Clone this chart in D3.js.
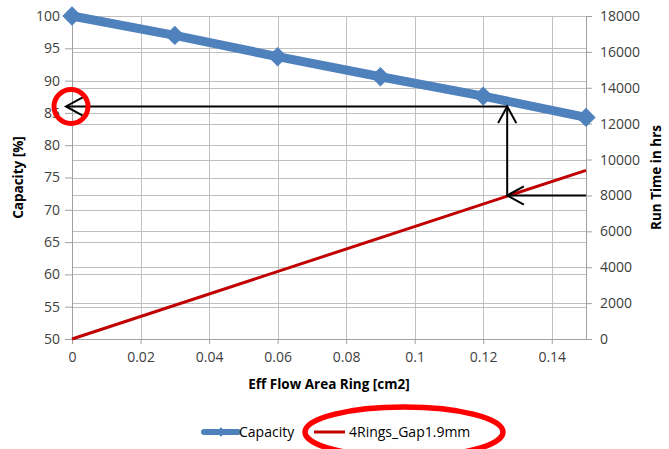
<!DOCTYPE html>
<html>
<head>
<meta charset="utf-8">
<script src="https://cdn.jsdelivr.net/npm/d3@7"></script>
<style>
  html, body { margin: 0; padding: 0; background: #fff; }
  svg { display: block; font-family: "Open Sans", "Liberation Sans", sans-serif; }
</style>
</head>
<body>
<svg id="chart" width="669" height="449"></svg>
<script>
// Effective flow area of the ring [cm2]
const flowArea = [0, 0.03, 0.06, 0.09, 0.12, 0.15];
// Capacity [%] (left axis)
const capacity = [100, 97, 93.7, 90.6, 87.6, 84.3];
// Run time in hours for 4 rings, gap 1.9 mm (right axis)
const runTimeArea = [0, 0.15];
const runTime = [0, 9400];

// Axis ticks
const xTicks = [0, 0.02, 0.04, 0.06, 0.08, 0.1, 0.12, 0.14];
const xTickLabels = ["0", "0.02", "0.04", "0.06", "0.08", "0.1", "0.12", "0.14"];
const yLeftTicks = [50, 55, 60, 65, 70, 75, 80, 85, 90, 95, 100];
const yRightTicks = [0, 2000, 4000, 6000, 8000, 10000, 12000, 14000, 16000, 18000];

// Read-off example: required run time -> flow area -> capacity
const targetRunTime = 8000;
const readArea = 0.127;
const readCapacity = 86;

const svg = d3.select("#chart");
const plot = { left: 72, right: 586, top: 16, bottom: 339 };

const x = d3.scaleLinear().domain([0, 0.15]).range([plot.left, plot.right]);
const yL = d3.scaleLinear().domain([50, 100]).range([plot.bottom, plot.top]);
const yR = d3.scaleLinear().domain([0, 18000]).range([plot.bottom, plot.top]);

const gridColor = "#c0c0c0";
const axisColor = "#a0a0a0";
const textColor = "#404040";

// Gridlines
const grid = svg.append("g").attr("shape-rendering", "crispEdges");
grid.selectAll(".gl").data(yLeftTicks).join("line")
  .attr("x1", plot.left).attr("x2", plot.right)
  .attr("y1", d => Math.round(yL(d)) + 0.5).attr("y2", d => Math.round(yL(d)) + 0.5)
  .attr("stroke", gridColor);
grid.selectAll(".gr").data(yRightTicks).join("line")
  .attr("x1", plot.left).attr("x2", plot.right)
  .attr("y1", d => Math.round(yR(d)) + 0.5).attr("y2", d => Math.round(yR(d)) + 0.5)
  .attr("stroke", gridColor);
grid.selectAll(".gx").data(xTicks).join("line")
  .attr("x1", d => Math.round(x(d)) + 0.5).attr("x2", d => Math.round(x(d)) + 0.5)
  .attr("y1", plot.top).attr("y2", plot.bottom)
  .attr("stroke", gridColor);

// Axes
const xAxis = d3.axisBottom(x).tickValues(xTicks)
  .tickFormat((d, i) => xTickLabels[i]).tickSize(5).tickPadding(8);
const gx = svg.append("g").attr("transform", `translate(0,${plot.bottom})`).call(xAxis);

const leftAxis = d3.axisLeft(yL).tickValues(yLeftTicks).tickSize(7).tickPadding(5);
const gl = svg.append("g").attr("transform", `translate(${plot.left},0)`).call(leftAxis);

const rightAxis = d3.axisRight(yR).tickValues(yRightTicks)
  .tickFormat(d3.format("d")).tickSize(6).tickPadding(8);
const gr = svg.append("g").attr("transform", `translate(${plot.right},0)`).call(rightAxis);

[gx, gl, gr].forEach(g => {
  g.select(".domain").attr("stroke", axisColor);
  g.selectAll(".tick line").attr("stroke", axisColor);
  g.selectAll("text").attr("fill", textColor)
    .style("font-size", "14px")
    .style("font-family", "'Open Sans', 'Liberation Sans', sans-serif");
});
gx.select(".domain").attr("d", `M${plot.left},0.5H${plot.right}`);

// Axis titles
svg.append("text")
  .attr("x", (plot.left + plot.right) / 2).attr("y", 389)
  .attr("text-anchor", "middle").attr("font-weight", "bold")
  .attr("font-size", 13.5).attr("fill", "#000")
  .text("Eff Flow Area Ring [cm2]");
svg.append("text")
  .attr("transform", `translate(23,${(plot.top + plot.bottom) / 2}) rotate(-90)`)
  .attr("text-anchor", "middle").attr("font-weight", "bold")
  .attr("font-size", 13.5).attr("fill", "#000")
  .text("Capacity [%]");
svg.append("text")
  .attr("transform", `translate(661,${(plot.top + plot.bottom) / 2}) rotate(-90)`)
  .attr("text-anchor", "middle").attr("font-weight", "bold")
  .attr("font-size", 13.5).attr("fill", "#000")
  .text("Run Time in hrs");

// Series
const blue = "#4f81bd";
const red = "#c00000";

const capLine = d3.line().x((d, i) => x(flowArea[i])).y(d => yL(d));
svg.append("path").datum(capacity)
  .attr("d", capLine).attr("fill", "none")
  .attr("stroke", blue).attr("stroke-width", 9).attr("stroke-linejoin", "round");

const diamond = d3.symbol().type(d3.symbolDiamond2).size(240);
svg.selectAll(".cap-pt").data(capacity).join("path")
  .attr("transform", (d, i) => `translate(${x(flowArea[i])},${yL(d)})`)
  .attr("d", diamond).attr("fill", blue);

const rtLine = d3.line().x((d, i) => x(runTimeArea[i])).y(d => yR(d));
svg.append("path").datum(runTime)
  .attr("d", rtLine).attr("fill", "none")
  .attr("stroke", red).attr("stroke-width", 3);

// Read-off arrows
const arrows = svg.append("g").attr("stroke", "#000").attr("stroke-width", 2).attr("fill", "none");
function arrow(x1, y1, x2, y2) {
  arrows.append("line").attr("x1", x1).attr("y1", y1).attr("x2", x2).attr("y2", y2);
  const ang = Math.atan2(y2 - y1, x2 - x1);
  const len = 19, spread = 0.5;
  const pts = [ang + Math.PI - spread, ang + Math.PI + spread].map(a =>
    [x2 + len * Math.cos(a), y2 + len * Math.sin(a)]);
  arrows.append("path")
    .attr("d", `M${pts[0][0]},${pts[0][1]}L${x2},${y2}L${pts[1][0]},${pts[1][1]}`);
}
const ax = x(readArea);
arrow(plot.right, yR(targetRunTime), ax, yR(targetRunTime));
arrow(ax, yR(targetRunTime), ax, yL(readCapacity));
arrow(ax, yL(readCapacity), plot.left - 6, yL(readCapacity));

// Highlight of the capacity read-off
svg.append("circle")
  .attr("cx", plot.left - 1).attr("cy", yL(readCapacity)).attr("r", 17)
  .attr("fill", "none").attr("stroke", "#ff0000").attr("stroke-width", 5);

// Legend
const leg = svg.append("g");
leg.append("line").attr("x1", 204).attr("x2", 238).attr("y1", 432).attr("y2", 432)
  .attr("stroke", blue).attr("stroke-width", 6).attr("stroke-linecap", "round");
leg.append("path").attr("transform", "translate(221,432)")
  .attr("d", d3.symbol().type(d3.symbolDiamond2).size(60)).attr("fill", blue);
leg.append("text").attr("x", 239).attr("y", 437).attr("font-size", 14).attr("fill", "#000")
  .text("Capacity");
leg.append("line").attr("x1", 314).attr("x2", 345).attr("y1", 432).attr("y2", 432)
  .attr("stroke", red).attr("stroke-width", 3);
leg.append("text").attr("x", 349).attr("y", 437).attr("font-size", 14).attr("fill", "#000")
  .text("4Rings_Gap1.9mm");

// Highlight of the legend entry
svg.append("ellipse")
  .attr("cx", 404).attr("cy", 432).attr("rx", 99).attr("ry", 25)
  .attr("fill", "none").attr("stroke", "#ff0000").attr("stroke-width", 5.5);
</script>
</body>
</html>
